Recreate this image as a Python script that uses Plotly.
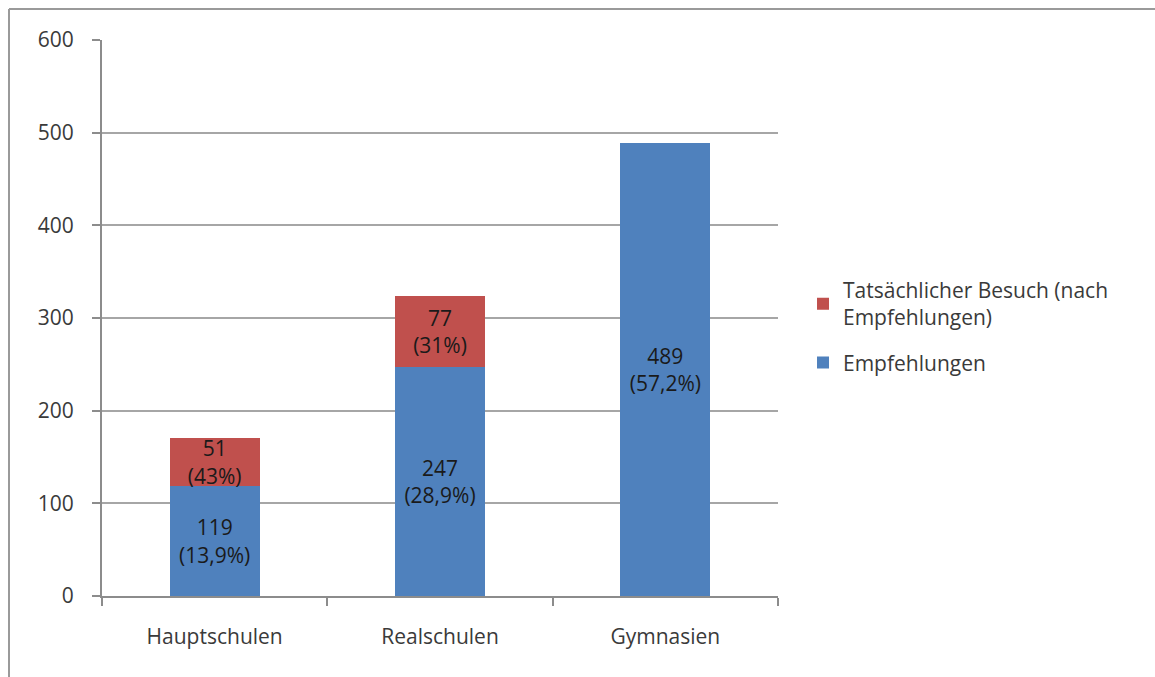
import plotly.graph_objects as go

categories = ["Hauptschulen", "Realschulen", "Gymnasien"]
empfehlungen = [119, 247, 489]
empfehlungen_labels = ["119<br>(13,9%)", "247<br>(28,9%)", "489<br>(57,2%)"]
besuch = [51, 77, None]
besuch_labels = ["51<br>(43%)", "77<br>(31%)", ""]
y_ticks = [0, 100, 200, 300, 400, 500, 600]

FONT = "Open Sans"
BLUE = "#4F81BD"
RED = "#C0504D"
TXT = "#3a3a3a"

fig = go.Figure()
fig.add_trace(go.Bar(
    x=categories, y=empfehlungen, name="Empfehlungen", legendgroup="a", legendrank=2,
    marker=dict(color=BLUE, line=dict(width=0)),
    text=empfehlungen_labels, textposition="inside", insidetextanchor="middle",
    textfont=dict(family=FONT, size=21, color="#1a1a1a"), textangle=0,
))
fig.add_trace(go.Bar(
    x=categories, y=besuch, name="Tatsächlicher Besuch (nach<br>Empfehlungen)",
    legendgroup="b", legendrank=1,
    marker=dict(color=RED, line=dict(width=0)),
    text=besuch_labels, textposition="inside", insidetextanchor="middle",
    textfont=dict(family=FONT, size=21, color="#1a1a1a"), textangle=0,
))

W, H = 1155, 677
PL, PT, PW, PH = 102, 40, 676, 556

fig.update_layout(
    barmode="stack", bargap=0.6,
    width=W, height=H,
    margin=dict(l=PL, r=W - PL - PW, t=PT, b=H - PT - PH),
    paper_bgcolor="white", plot_bgcolor="white",
    font=dict(family=FONT, size=21, color=TXT),
    uniformtext=dict(minsize=21, mode="show"),
    legend=dict(
        x=1.037, y=0.485, xanchor="left", yanchor="middle",
        traceorder="grouped", tracegroupgap=15,
        font=dict(family=FONT, size=21, color=TXT),
        bgcolor="rgba(0,0,0,0)",
    ),
    xaxis=dict(
        showline=True, linecolor="#8c8c8c", linewidth=2,
        ticks="outside", ticklen=8, tickcolor="#8c8c8c", tickwidth=2,
        tickson="boundaries", showgrid=False, ticklabelstandoff=21,
        tickfont=dict(family=FONT, size=21, color=TXT),
    ),
    yaxis=dict(
        range=[0, 600], tickvals=y_ticks, showline=True, linecolor="#8c8c8c", linewidth=2,
        ticks="outside", ticklen=8, tickcolor="#8c8c8c", tickwidth=2,
        showgrid=True, gridcolor="#a6a6a6", gridwidth=1.5, zeroline=False,
        ticklabelstandoff=14,
        tickfont=dict(family=FONT, size=21, color=TXT),
    ),
    shapes=[
        dict(type="line", xref="paper", yref="paper",
             x0=(9 - PL) / PW, x1=(9 - PL) / PW, y0=-0.5, y1=(PT + PH - 9) / PH,
             line=dict(color="#9a9a9a", width=2)),
        dict(type="line", xref="paper", yref="paper",
             x0=(9 - PL) / PW, x1=2.0, y0=(PT + PH - 9) / PH, y1=(PT + PH - 9) / PH,
             line=dict(color="#9a9a9a", width=2)),
    ],
)

fig.write_html(
    "out.html",
    config={"displayModeBar": False},
    post_script="document.body.style.margin='0';document.body.style.overflow='hidden';",
)
